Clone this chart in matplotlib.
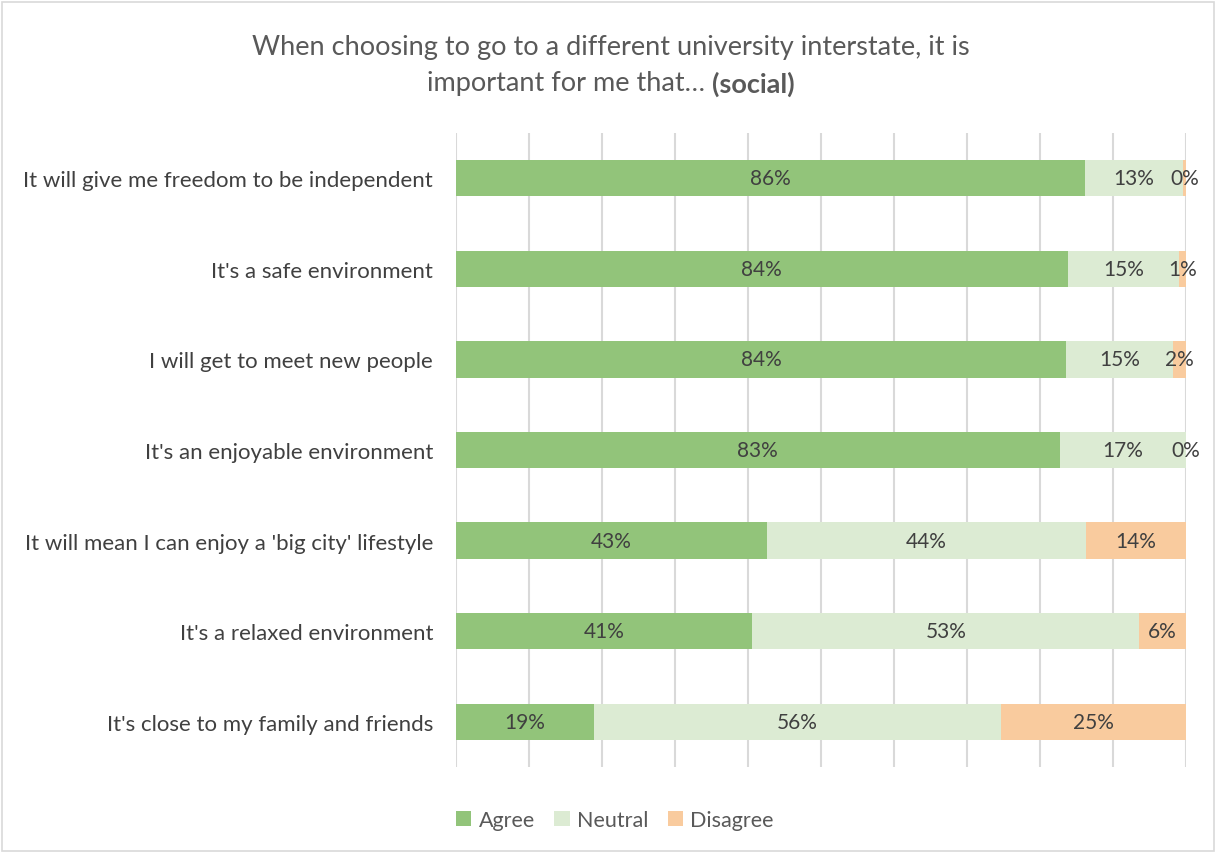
import matplotlib
matplotlib.use("Agg")
from matplotlib import pyplot as plt
from matplotlib.patches import Rectangle
import numpy as np

# survey results, % of respondents, top row first
statements = ["It will give me freedom to be independent",
              "It's a safe environment",
              "I will get to meet new people",
              "It's an enjoyable environment",
              "It will mean I can enjoy a 'big city' lifestyle",
              "It's a relaxed environment",
              "It's close to my family and friends"]
agree = [86.2, 83.8, 83.6, 82.7, 42.6, 40.6, 18.9]
neutral = [13.4, 15.3, 14.6, 17.3, 43.7, 53.0, 55.7]
disagree = [0.4, 0.9, 1.8, 0.0, 13.7, 6.4, 25.4]

series = ["Agree", "Neutral", "Disagree"]
colours = ["#92c47a", "#dcebd3", "#f9cb9e"]
txt_col = "#404040"

plt.rcParams['font.family'] = ['Lato', 'DejaVu Sans']

fig = plt.figure(figsize=(12.18, 8.54), dpi=100)
ax = fig.add_axes([456/1218, 1 - 768/854, 730/1218, 634/854])

y = np.arange(len(statements))
left = np.zeros(len(statements))
for name, vals, col in zip(series, [agree, neutral, disagree], colours):
    vals = np.array(vals)
    ax.barh(y, vals, left=left, height=0.4, color=col, label=name, zorder=2)
    for yi, l, v in zip(y, left, vals):
        ax.text(l + v / 2, yi, "%d%%" % round(v), ha='center', va='center',
                fontsize=15, color=txt_col, zorder=3)
    left = left + vals

ax.set_xlim(0, 100)
ax.set_ylim(len(statements) - 0.5, -0.5)
ax.set_xticks(np.arange(0, 101, 10))
ax.set_xticklabels([])
ax.tick_params(axis='x', length=0)
ax.tick_params(axis='y', length=0, pad=16.5)
ax.set_yticks(y)
ax.set_yticklabels(statements, fontsize=16, color=txt_col)
ax.grid(axis='x', color='#d9d9d9', linewidth=1.5, zorder=0)
ax.set_axisbelow(True)
for s in ax.spines.values():
    s.set_visible(False)

# title, bold tag on the second line
fig.text(0.5015, 1 - 48/854, "When choosing to go to a different university interstate, it is",
         ha='center', va='center', fontsize=19.5, color='#595959')
t1 = fig.text(0, 1 - 84/854, "important for me that\u2026 ", ha='left', va='center',
              fontsize=19.5, color='#595959')
t2 = fig.text(0, 1 - 84/854, "(social)", ha='left', va='center',
              fontsize=19.5, color='#595959', fontweight='bold')
fig.canvas.draw()
r = fig.canvas.get_renderer()
w1 = t1.get_window_extent(r).width / fig.bbox.width
w2 = t2.get_window_extent(r).width / fig.bbox.width
x0 = 0.5015 - (w1 + w2) / 2
t1.set_x(x0)
t2.set_x(x0 + w1)

leg = fig.legend(loc='center', bbox_to_anchor=(0.505, 1 - 821/854), ncol=3,
                 frameon=False, fontsize=15.5, handlelength=0.7, handleheight=0.7,
                 handletextpad=0.35, columnspacing=0.9)
for t in leg.get_texts():
    t.set_color('#595959')

fig.patches.append(Rectangle((0.002, 0.002), 1212/1218, 0.995, transform=fig.transFigure,
                             fill=False, edgecolor='#d9d9d9', linewidth=1.2))

plt.savefig("out.png", dpi=100)
